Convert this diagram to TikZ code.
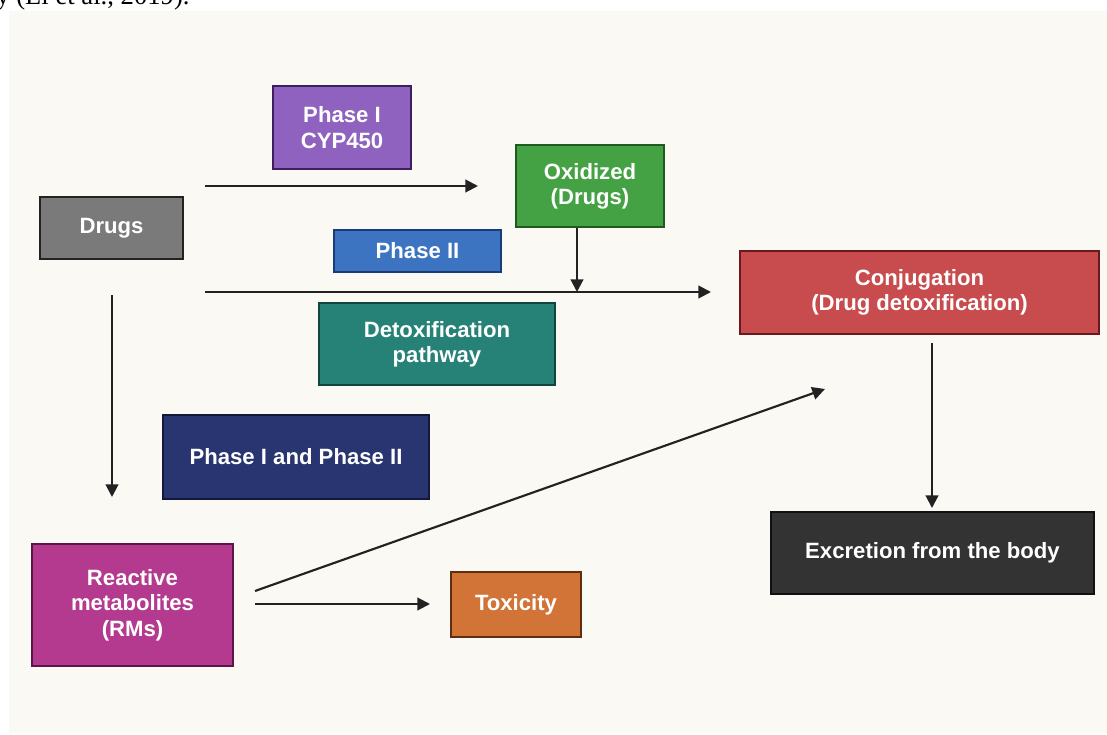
\documentclass[tikz,border=0pt]{standalone}
\usepackage{fontspec}
\setmainfont{Liberation Sans}
\newfontfamily\capfont{Liberation Serif}
\usetikzlibrary{arrows.meta}
\definecolor{bgcream}{HTML}{FAF9F3}
\definecolor{linecol}{HTML}{222222}
\definecolor{purpF}{HTML}{8F62C0}\definecolor{purpD}{HTML}{3D1E5E}
\definecolor{greenF}{HTML}{45A244}\definecolor{greenD}{HTML}{1F5A1E}
\definecolor{grayF}{HTML}{7A7A7A}\definecolor{grayD}{HTML}{222222}
\definecolor{blueF}{HTML}{3C74C2}\definecolor{blueD}{HTML}{1B3A78}
\definecolor{tealF}{HTML}{268277}\definecolor{tealD}{HTML}{0F4640}
\definecolor{redF}{HTML}{C84B4E}\definecolor{redD}{HTML}{6A1A1C}
\definecolor{darkF}{HTML}{333333}\definecolor{darkD}{HTML}{111111}
\definecolor{navyF}{HTML}{283570}\definecolor{navyD}{HTML}{11183A}
\definecolor{magF}{HTML}{B33A8E}\definecolor{magD}{HTML}{5E1447}
\definecolor{oranF}{HTML}{D27337}\definecolor{oranD}{HTML}{5E2E10}
\tikzset{
  box/.style={rectangle, line width=1.5pt, inner sep=0pt, outer sep=0pt,
    text=white, font=\fontsize{16.6}{19}\selectfont\bfseries, align=center},
  conn/.style={line width=1.6pt, draw=linecol, -{Triangle[length=9.5pt,width=9.5pt]}}
}
\begin{document}
\begin{tikzpicture}[x=0.75pt,y=-0.75pt]
\useasboundingbox (0,0) rectangle (1107,735);
\clip (0,0) rectangle (1107,735);
\node[anchor=base west, inner sep=0pt, font=\capfont\fontsize{20}{24}\selectfont, text=black] (cap) at (-4,5) {y (Li et al., 2019).};
\fill[bgcream] (9,11) rectangle (1107,733);

\node[box, fill=purpF, draw=purpD, minimum width=138*0.75pt, minimum height=83*0.75pt] (p1) at (342,127.5) {Phase I\\CYP450};
\node[box, fill=greenF, draw=greenD, minimum width=148*0.75pt, minimum height=82*0.75pt] (ox) at (590,186) {Oxidized\\(Drugs)};
\node[box, fill=grayF, draw=grayD, minimum width=143*0.75pt, minimum height=62*0.75pt] (drugs) at (111.5,228) {Drugs};
\node[box, fill=blueF, draw=blueD, minimum width=167*0.75pt, minimum height=42*0.75pt] (p2) at (417.5,251) {Phase II};
\node[box, fill=tealF, draw=tealD, minimum width=236*0.75pt, minimum height=82*0.75pt] (detox) at (437,344) {Detoxification\\pathway};
\node[box, fill=redF, draw=redD, minimum width=359*0.75pt, minimum height=83*0.75pt] (conj) at (919.5,292.5) {Conjugation\\(Drug detoxification)};
\node[box, fill=darkF, draw=darkD, minimum width=323*0.75pt, minimum height=82*0.75pt] (excr) at (932.5,553) {Excretion from the body};
\node[box, fill=navyF, draw=navyD, minimum width=266*0.75pt, minimum height=84*0.75pt] (p12) at (296,457) {Phase I and Phase II};
\node[box, fill=magF, draw=magD, minimum width=201*0.75pt, minimum height=122*0.75pt] (rm) at (132.5,605) {Reactive\\metabolites\\(RMs)};
\node[box, fill=oranF, draw=oranD, minimum width=130*0.75pt, minimum height=65*0.75pt] (tox) at (516,604.5) {Toxicity};

\coordinate (a1s) at (205,186);  \coordinate (a1e) at (478,186);
\coordinate (a2s) at (205,292);  \coordinate (a2e) at (711,292);
\coordinate (a3s) at (577,228);  \coordinate (a3e) at (577,292);
\coordinate (a4s) at (112,295);  \coordinate (a4e) at (112,497);
\coordinate (a5s) at (255,591);  \coordinate (a5e) at (825,389);
\coordinate (a6s) at (255,604);  \coordinate (a6e) at (430,604);
\coordinate (a7s) at (932,343);  \coordinate (a7e) at (932,508);

\draw[conn] (a1s) -- (a1e);
\draw[conn] (a2s) -- (a2e);
\draw[conn] (a3s) -- (a3e);
\draw[conn] (a4s) -- (a4e);
\draw[conn] (a5s) -- (a5e);
\draw[conn] (a6s) -- (a6e);
\draw[conn] (a7s) -- (a7e);
\end{tikzpicture}
\end{document}
